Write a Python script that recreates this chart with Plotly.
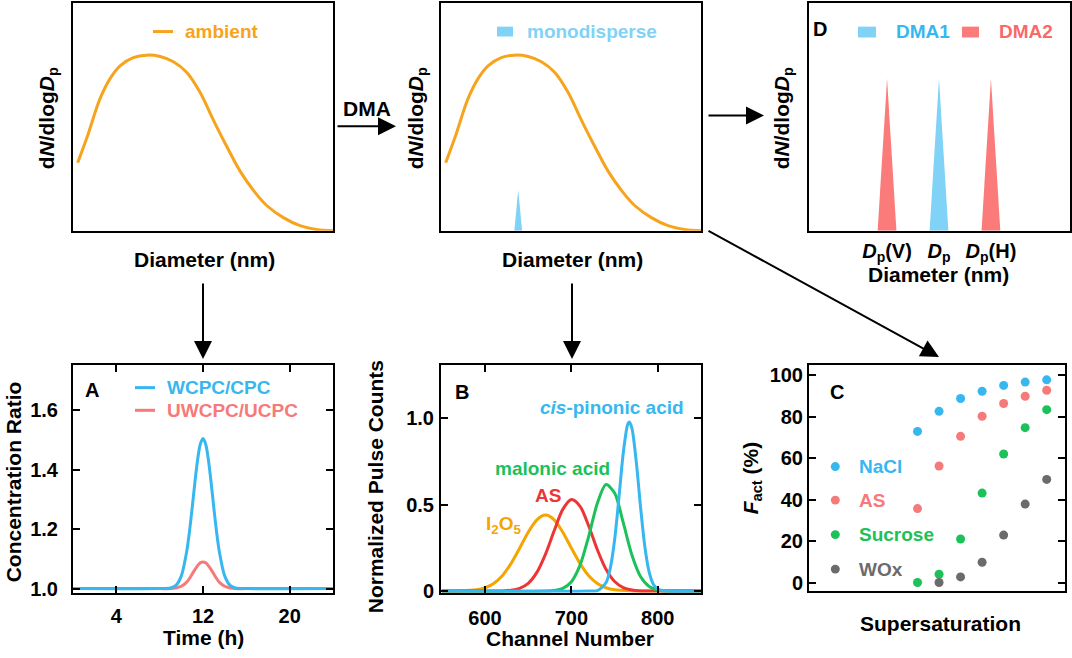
import plotly.graph_objects as go

W, H = 1072, 658
def PX(x): return x / W
def PY(y): return 1 - y / H

FONT = "Liberation Sans, Arial, sans-serif"

# ---------------- data ----------------
# size distribution (schematic, arbitrary units 0-100)
size_x = [1.8, 5.3, 10.4, 14.2, 18.1, 23.2, 28.3, 33.5, 38.6, 43.7, 48.8, 54.0,
          59.1, 64.2, 69.3, 74.5, 80.9, 87.3, 93.7, 100]
size_y = [29.9, 40.7, 58.0, 66.7, 72.4, 76.0, 77.1, 76.5, 74.2, 69.6, 60.9, 48.6,
          37.1, 26.3, 17.9, 11.1, 5.8, 2.3, 0.6, 0.0]
mono_center = 29.7
mono_halfwidth = 1.5
mono_height = 18.0
dma_centers = [29.9, 49.8, 69.7]
dma_halfwidth = 3.6
dma_height = 66.7
dma_labels = ["<i>D</i><sub>p</sub>(V)", "<i>D</i><sub>p</sub>", "<i>D</i><sub>p</sub>(H)"]

# Panel A: concentration ratio vs time
time_h = [0, 8, 9, 9.5, 10, 10.5, 10.75, 11, 11.25, 11.5, 11.75, 12,
          12.25, 12.5, 12.75, 13, 13.25, 13.5, 14, 14.5, 15, 16, 24]
wcpc_ratio = [1.0, 1.0, 1.002, 1.011, 1.043, 1.126, 1.192, 1.272, 1.357, 1.433, 1.486, 1.505,
              1.486, 1.433, 1.357, 1.272, 1.192, 1.126, 1.043, 1.011, 1.002, 1.0, 1.0]
uwcpc_ratio = [1.0, 1.0, 1.000, 1.002, 1.008, 1.022, 1.034, 1.049, 1.064, 1.077, 1.087, 1.090,
               1.087, 1.077, 1.064, 1.049, 1.034, 1.022, 1.008, 1.002, 1.000, 1.0, 1.0]

# Panel B: normalized pulse counts vs channel number
chan_i2o5 = [550, 570, 590, 600, 610, 620, 630, 640, 650, 660, 670, 680, 690, 700, 710,
             720, 730, 740, 750, 770, 790, 850]
cnt_i2o5 = [0.0, 0.001, 0.007, 0.019, 0.044, 0.089, 0.159, 0.248, 0.341, 0.413, 0.44, 0.413,
            0.341, 0.248, 0.159, 0.089, 0.044, 0.019, 0.007, 0.001, 0.0, 0.0]
chan_as = [550, 620, 630, 640, 650, 660, 670, 680, 690, 700, 710, 720, 730, 740, 750,
           760, 770, 780, 800, 850]
cnt_as = [0.0, 0.001, 0.005, 0.016, 0.045, 0.108, 0.214, 0.349, 0.473, 0.53, 0.491, 0.377,
          0.239, 0.126, 0.055, 0.020, 0.006, 0.001, 0.0, 0.0]
chan_mal = [550, 670, 680, 690, 700, 710, 720, 730, 740, 750, 760, 770, 780, 790, 800, 810, 820, 850]
cnt_mal = [0.0, 0.0, 0.003, 0.015, 0.054, 0.150, 0.317, 0.508, 0.617, 0.568, 0.396, 0.209,
           0.084, 0.026, 0.006, 0.001, 0.0, 0.0]
chan_cis = [550, 720, 730, 740, 745, 750, 755, 760, 765, 767, 770, 775, 780, 785, 790, 795,
            800, 810, 850]
cnt_cis = [0.0, 0.0, 0.003, 0.048, 0.133, 0.297, 0.541, 0.800, 0.964, 0.98, 0.944, 0.752,
           0.488, 0.257, 0.110, 0.038, 0.011, 0.0, 0.0]

# Panel C: activated fraction vs supersaturation step
ss_step = [1, 2, 3, 4, 5, 6, 7]
fact_nacl = [73.0, 82.7, 88.9, 92.4, 95.2, 96.8, 97.9]
fact_as = [35.7, 56.3, 70.6, 80.3, 86.5, 90.0, 92.9]
fact_sucrose = [0.0, 4.0, 21.0, 43.2, 62.1, 74.8, 83.5]
ss_step_wox = [2, 3, 4, 5, 6, 7]
fact_wox = [0.0, 2.7, 9.8, 22.9, 37.9, 49.8]
c_names = ["NaCl", "AS", "Sucrose", "WOx"]

# ---------------- colours ----------------
ORANGE = "#F7A31C"
LBLUE = "#80D2F7"
BLUE = "#37B7F0"
SALMON = "#F67A7A"
RED = "#EE3535"
GREEN = "#1CC159"
GREY = "#6B6B6B"
C_COLORS = [BLUE, SALMON, GREEN, GREY]

fig = go.Figure()

# top-left: ambient distribution
fig.add_trace(go.Scatter(x=size_x, y=size_y, mode="lines", line=dict(color=ORANGE, width=3, shape="spline"),
                         xaxis="x", yaxis="y", showlegend=False))
# top-middle: ambient + monodisperse
fig.add_trace(go.Scatter(x=size_x, y=size_y, mode="lines", line=dict(color=ORANGE, width=3, shape="spline"),
                         xaxis="x2", yaxis="y2", showlegend=False))
fig.add_trace(go.Scatter(x=[mono_center - mono_halfwidth, mono_center, mono_center + mono_halfwidth],
                         y=[0, mono_height, 0], mode="lines", fill="toself", fillcolor=LBLUE,
                         line=dict(width=0, color=LBLUE), xaxis="x2", yaxis="y2", showlegend=False))
# D: DMA1 / DMA2
for i, c in enumerate(dma_centers):
    col = LBLUE if i == 1 else "#FB7B7B"
    fig.add_trace(go.Scatter(x=[c - dma_halfwidth, c, c + dma_halfwidth], y=[0, dma_height, 0],
                             mode="lines", fill="toself", fillcolor=col, line=dict(width=0, color=col),
                             xaxis="x3", yaxis="y3", showlegend=False))
# A
fig.add_trace(go.Scatter(x=time_h, y=uwcpc_ratio, mode="lines", line=dict(color=SALMON, width=3, shape="spline", smoothing=0.8),
                         xaxis="x4", yaxis="y4", showlegend=False))
fig.add_trace(go.Scatter(x=time_h, y=wcpc_ratio, mode="lines", line=dict(color=BLUE, width=3, shape="spline", smoothing=0.8),
                         xaxis="x4", yaxis="y4", showlegend=False))
# B
for xs, ys, col in [(chan_i2o5, cnt_i2o5, "#F5A400"), (chan_as, cnt_as, RED),
                    (chan_mal, cnt_mal, GREEN), (chan_cis, cnt_cis, BLUE)]:
    fig.add_trace(go.Scatter(x=xs, y=ys, mode="lines", line=dict(color=col, width=3, shape="spline", smoothing=0.8),
                             xaxis="x5", yaxis="y5", showlegend=False))
# C
for xs, ys, col in [(ss_step, fact_nacl, BLUE), (ss_step, fact_as, SALMON),
                    (ss_step, fact_sucrose, GREEN), (ss_step_wox, fact_wox, GREY)]:
    fig.add_trace(go.Scatter(x=xs, y=ys, mode="markers", marker=dict(color=col, size=9),
                             xaxis="x6", yaxis="y6", showlegend=False, cliponaxis=False))

# ---------------- axes ----------------
tick_font = dict(family=FONT, size=20, color="black", weight="bold")
box = dict(showline=True, linecolor="black", linewidth=2, mirror=True, zeroline=False, showgrid=False)
noticks = dict(ticks="", showticklabels=False, fixedrange=True)
inticks = dict(ticks="inside", ticklen=7, tickwidth=2, tickcolor="black", tickfont=tick_font,
               showline=True, linecolor="black", linewidth=2, mirror="allticks", zeroline=False, showgrid=False)

top_dom = [PY(234), PY(3)]
bot_dom = [PY(601), PY(370)]
fig.update_layout(
    xaxis=dict(domain=[PX(73), PX(333)], anchor="y", range=[0, 100], **box, **noticks),
    yaxis=dict(domain=top_dom, anchor="x", range=[0, 100], **box, **noticks),
    xaxis2=dict(domain=[PX(441), PX(701)], anchor="y2", range=[0, 100], **box, **noticks),
    yaxis2=dict(domain=top_dom, anchor="x2", range=[0, 100], **box, **noticks),
    xaxis3=dict(domain=[PX(809), PX(1070)], anchor="y3", range=[0, 100], **box, ticks="",
                tickvals=dma_centers, ticktext=dma_labels, tickfont=tick_font, ticklabelstandoff=1),
    yaxis3=dict(domain=top_dom, anchor="x3", range=[0, 100], **box, **noticks),
    xaxis4=dict(domain=[PX(73), PX(333)], anchor="y4", range=[0, 24], tickvals=[4, 12, 20],
                ticklabelstandoff=4, **inticks),
    yaxis4=dict(domain=bot_dom, anchor="x4", range=[0.986, 1.753], tickvals=[1.0, 1.2, 1.4, 1.6],
                tickformat=".1f", ticklabelstandoff=9, **inticks),
    xaxis5=dict(domain=[PX(441), PX(701)], anchor="y5", range=[549, 850], tickvals=[600, 700, 800],
                ticklabelstandoff=6, **inticks),
    yaxis5=dict(domain=bot_dom, anchor="x5", range=[-0.01, 1.31], tickvals=[0, 0.5, 1.0],
                ticktext=["0", "0.5", "1.0"], ticklabelstandoff=1, **inticks),
    xaxis6=dict(domain=[PX(809), PX(1065)], anchor="y6", range=[-4.04, 7.85], **box, **noticks),
    yaxis6=dict(domain=[PY(599), PY(370)], anchor="x6", range=[-4, 105.1], tickvals=[0, 20, 40, 60, 80, 100],
                ticklabelstandoff=0, **inticks),
)

# ---------------- annotations ----------------
ann = []
def text(x, y, s, size=20, color="black", xanchor="center", angle=0):
    ann.append(dict(x=PX(x), y=PY(y), xref="paper", yref="paper", text=s, showarrow=False,
                    xanchor=xanchor, yanchor="middle", textangle=angle,
                    font=dict(family=FONT, size=size, color=color, weight="bold")))

ylab_size = "d<i>N</i>/dlog<i>D</i><sub>p</sub>"
text(48, 120, ylab_size, size=21, angle=-90)
text(417, 120, ylab_size, size=21, angle=-90)
text(783, 120, ylab_size, size=21, angle=-90)
text(204, 263, "Diameter (nm)", size=21)
text(572, 263, "Diameter (nm)", size=21)
text(938, 278, "Diameter (nm)", size=21)
text(367, 110, "DMA", size=21)

text(13, 489, "Concentration Ratio", size=21, angle=-90)
text(203, 646, "Time (h)", size=21)
text(375, 494, "Normalized Pulse Counts", size=21, angle=-90)
text(570, 647, "Channel Number", size=21)
text(752, 485, "<i>F</i><sub>act</sub> (%)", size=21, angle=-90)
text(940, 632, "Supersaturation", size=21)

# panel letters
text(92, 395, "A", size=20)
text(462, 397, "B", size=20)
text(837, 397, "C", size=20)
text(820, 29, "D", size=20)

# legends / labels
text(183, 32, "ambient", size=19, color=ORANGE, xanchor="left")
text(525, 32, "monodisperse", size=19, color=LBLUE, xanchor="left")
text(894, 32, "DMA1", size=19, color=BLUE, xanchor="left")
text(997, 32, "DMA2", size=19, color="#F86A6A", xanchor="left")
text(165, 393, "WCPC/CPC", size=19, color=BLUE, xanchor="left")
text(165, 416, "UWCPC/UCPC", size=19, color=SALMON, xanchor="left")
text(612, 413, "<i>cis</i>-pinonic acid", size=19, color=BLUE)
text(552, 475, "malonic acid", size=19, color=GREEN)
text(548, 502, "AS", size=19, color=RED)
text(503, 532, "I<sub>2</sub>O<sub>5</sub>", size=19, color="#F5A400")
for name, col, yy in zip(c_names, C_COLORS, [473, 507, 542, 577]):
    text(857, yy, name, size=19, color=col, xanchor="left")

# arrows
def arrow(tx, ty, hx, hy):
    ann.append(dict(x=PX(hx), y=PY(hy), xref="paper", yref="paper", ax=tx - hx, ay=ty - hy,
                    axref="pixel", ayref="pixel", text="", showarrow=True, arrowhead=2,
                    arrowsize=1.8, arrowwidth=2, arrowcolor="black", standoff=0,
                    font=dict(size=12)))
arrow(336, 128, 396, 128)
arrow(707, 117, 764, 117)
arrow(707, 235, 939, 362)
arrow(203, 287, 203, 364)
arrow(572, 287, 572, 364)

# legend keys as shapes
shapes = []
def rect(x0, y0, x1, y1, col):
    shapes.append(dict(type="rect", xref="paper", yref="paper", x0=PX(x0), x1=PX(x1), y0=PY(y1), y1=PY(y0),
                       fillcolor=col, line=dict(width=0)))
def hline(x0, x1, y, col):
    shapes.append(dict(type="line", xref="paper", yref="paper", x0=PX(x0), x1=PX(x1), y0=PY(y), y1=PY(y),
                       line=dict(color=col, width=3)))
hline(153, 173, 32, ORANGE)
rect(497, 27, 513, 37, LBLUE)
rect(858, 27, 876, 38, LBLUE)
rect(962, 27, 979, 38, "#FB7B7B")
hline(135, 155, 393, BLUE)
hline(135, 155, 416, SALMON)
for col, yy in zip(C_COLORS, [473, 507, 542, 577]):
    shapes.append(dict(type="circle", xref="paper", yref="paper", x0=PX(835.3 - 4.5), x1=PX(835.3 + 4.5),
                       y0=PY(yy + 4.5), y1=PY(yy - 4.5), fillcolor=col, line=dict(width=0)))

fig.update_layout(annotations=ann, shapes=shapes, width=W, height=H,
                  margin=dict(l=0, r=0, t=0, b=0), paper_bgcolor="white", plot_bgcolor="white",
                  font=dict(family=FONT, size=20, color="black"), showlegend=False)

fig.write_html("out.html", config={"displayModeBar": False},
               post_script="document.body.style.margin='0px';document.body.style.overflow='hidden';")
